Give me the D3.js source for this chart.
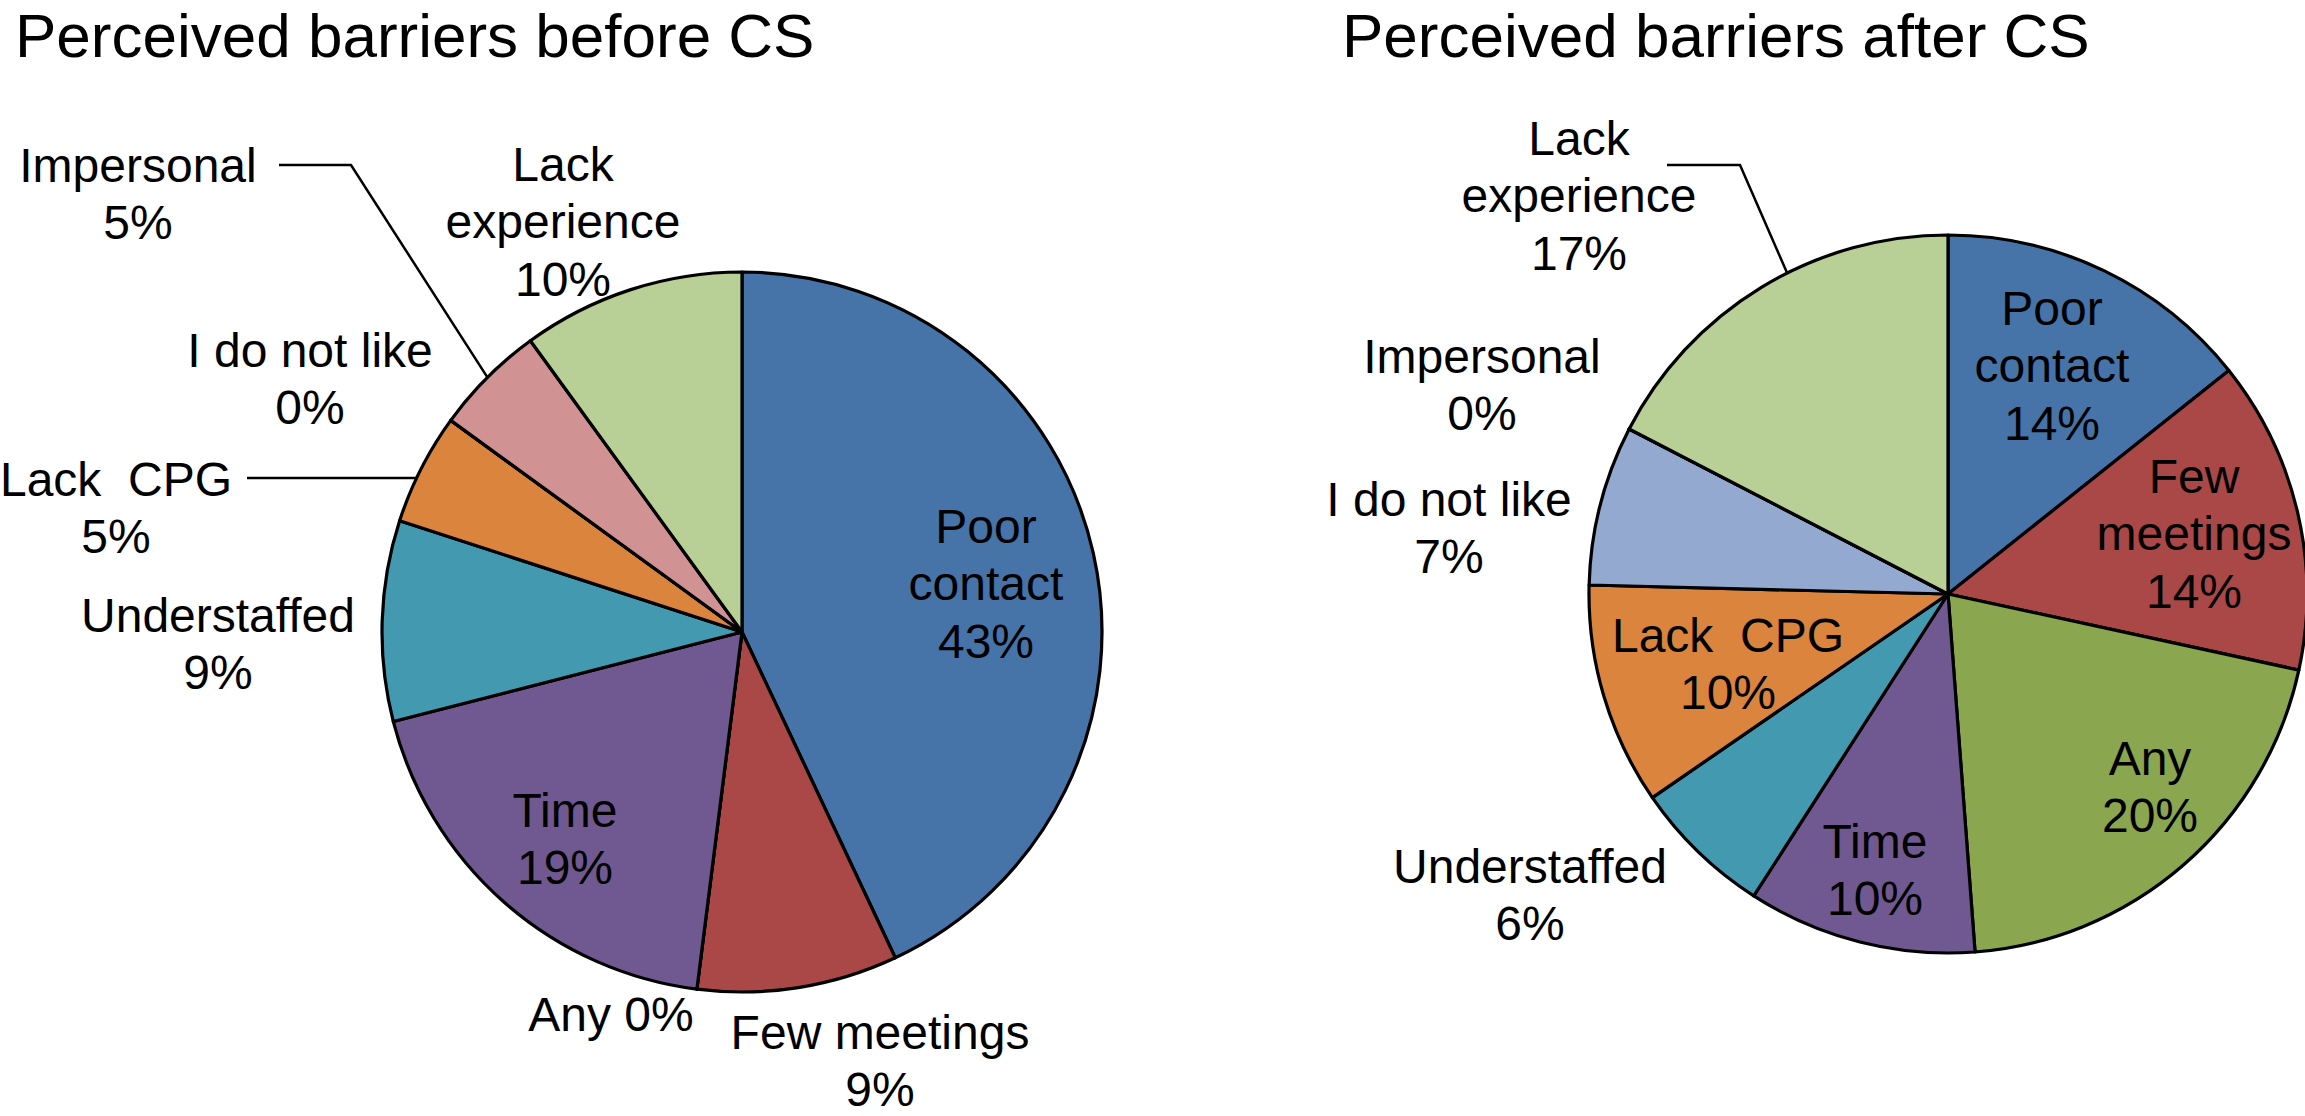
<!DOCTYPE html>
<html>
<head>
<meta charset="utf-8">
<script src="https://cdn.jsdelivr.net/npm/d3@7"></script>
<style>
  body { margin: 0; background: #fff; }
  svg text { font-family: "Liberation Sans", Arial, Helvetica, sans-serif; fill: #000; white-space: pre; }
</style>
</head>
<body>
<svg id="chart" width="2305" height="1116"></svg>
<script>
// categories in clockwise order from 12 o'clock
const categories = ["Poor contact", "Few meetings", "Any", "Time", "Understaffed", "Lack  CPG", "I do not like", "Impersonal", "Lack experience"];
const beforeValues = [43, 9, 0, 19, 9, 5, 0, 5, 10];
const afterValues = [14.3, 14.1, 20.4, 10.3, 6.3, 10.0, 7.2, 0, 17.4];
const sliceColors = ["#4673a8", "#a94846", "#8aa64f", "#705890", "#4299b0", "#da843d", "#93a9cf", "#d19293", "#b8cf95"];
const titles = ["Perceived barriers before CS", "Perceived barriers after CS"];

// label layout: offset of first line centre from pie centre, and how the name wraps
const beforeLayout = [
  { dx: 244, dy: -106, lines: ["Poor", "contact"] },
  { dx: 138, dy: 400, lines: ["Few meetings"] },
  { dx: -131, dy: 382, lines: ["Any"], inline: true },
  { dx: -177, dy: 178, lines: ["Time"] },
  { dx: -524, dy: -17, lines: ["Understaffed"] },
  { dx: -626, dy: -153, lines: ["Lack  CPG"], leader: { start: [-495, -154], flat: true } },
  { dx: -432, dy: -282, lines: ["I do not like"] },
  { dx: -604, dy: -467, lines: ["Impersonal"], leader: { start: [-463, -467], elbow: [-391, -467] } },
  { dx: -179, dy: -468, lines: ["Lack", "experience"] }
];
const afterLayout = [
  { dx: 104, dy: -286, lines: ["Poor", "contact"] },
  { dx: 246, dy: -118, lines: ["Few", "meetings"] },
  { dx: 202, dy: 164, lines: ["Any"] },
  { dx: -73, dy: 247, lines: ["Time"] },
  { dx: -418, dy: 272, lines: ["Understaffed"] },
  { dx: -220, dy: 41, lines: ["Lack  CPG"] },
  { dx: -499, dy: -95, lines: ["I do not like"] },
  { dx: -466, dy: -238, lines: ["Impersonal"] },
  { dx: -369, dy: -456, lines: ["Lack", "experience"], leader: { start: [-281, -429], elbow: [-208, -429], shift: 4.7 } }
];

const pies = [
  { values: beforeValues, layout: beforeLayout, cx: 742, cy: 632, r: 360, titleX: 15 },
  { values: afterValues, layout: afterLayout, cx: 1948, cy: 594, r: 359, titleX: 1342 }
];

const svg = d3.select("#chart");
const lineH = 57.5;
const fmt = v => Math.round(v) + "%";

pies.forEach((p, k) => {
  svg.append("text")
    .attr("x", p.titleX)
    .attr("y", 57)
    .style("font-size", "62px")
    .text(titles[k]);

  const g = svg.append("g").attr("transform", `translate(${p.cx},${p.cy})`);

  const arcs = d3.pie().sort(null).value(d => d)(p.values);
  const arc = d3.arc().innerRadius(0).outerRadius(p.r);

  g.selectAll("path.slice")
    .data(arcs)
    .enter()
    .append("path")
    .attr("class", "slice")
    .attr("d", arc)
    .attr("fill", (d, i) => sliceColors[i])
    .attr("stroke", "#000")
    .attr("stroke-width", 3.2)
    .attr("stroke-linejoin", "round");

  // labels
  arcs.forEach((a, i) => {
    const L = p.layout[i];
    const rows = L.inline ? [L.lines[0] + " " + fmt(a.data)] : L.lines.concat([fmt(a.data)]);
    const t = g.append("text")
      .attr("text-anchor", "middle")
      .style("font-size", "48px");
    rows.forEach((s, j) => {
      t.append("tspan")
        .attr("x", L.dx)
        .attr("y", L.dy + j * lineH)
        .attr("dy", "0.35em")
        .text(s);
    });

    if (L.leader) {
      let end;
      if (L.leader.flat) {
        const y = L.leader.start[1];
        end = [-Math.sqrt(p.r * p.r - y * y), y];
      } else {
        const ang = (a.startAngle + a.endAngle) / 2 + (L.leader.shift || 0) * Math.PI / 180;
        end = [p.r * Math.sin(ang), -p.r * Math.cos(ang)];
      }
      const pts = [L.leader.start];
      if (L.leader.elbow) pts.push(L.leader.elbow);
      pts.push(end);
      g.append("path")
        .attr("d", d3.line()(pts))
        .attr("fill", "none")
        .attr("stroke", "#000")
        .attr("stroke-width", 2.5);
    }
  });
});
</script>
</body>
</html>
